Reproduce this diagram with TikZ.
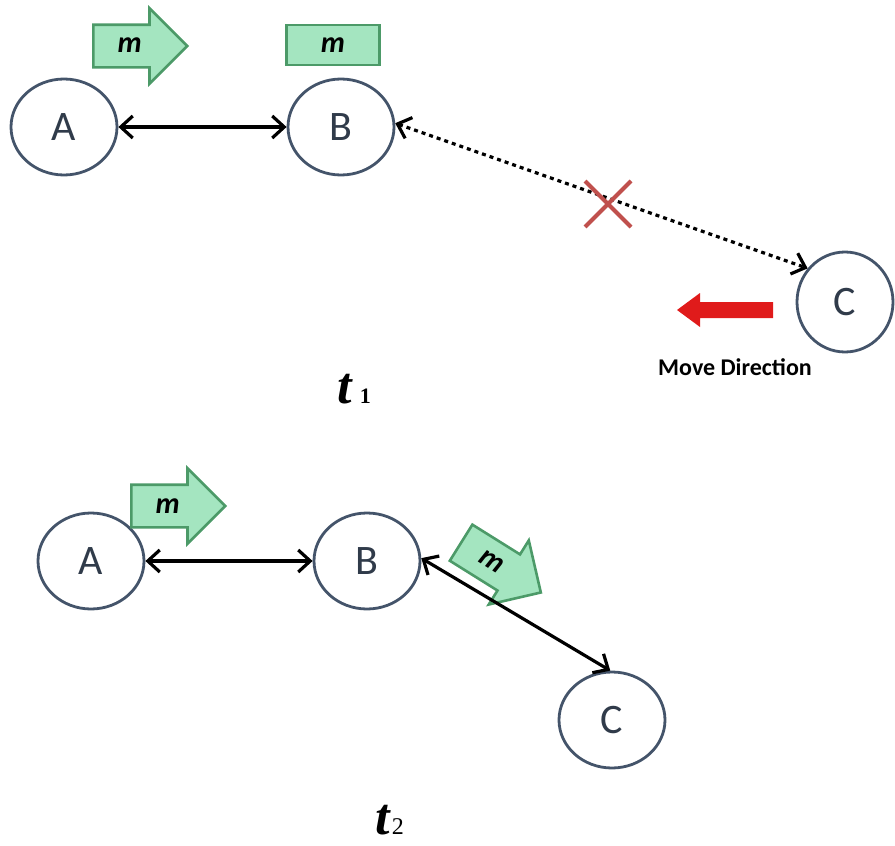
\documentclass[tikz,border=0pt]{standalone}
\usepackage{fontspec}
\setmainfont{Carlito}
\newfontfamily\timesfont{Liberation Serif}
\usetikzlibrary{positioning,arrows.meta,shapes.geometric,shapes.arrows,shapes.misc}
\definecolor{nodeline}{HTML}{44546A}
\definecolor{mfill}{HTML}{A4E5C0}
\definecolor{mline}{HTML}{4C9A68}
\definecolor{cutred}{HTML}{C0504D}
\definecolor{moved}{HTML}{E01B1B}

\begin{document}
\begin{tikzpicture}[x=0.5pt,y=-0.5pt,>={Straight Barb[length=6pt,width=11pt]},
  vertex/.style={ellipse,draw=nodeline,line width=1.4pt,fill=white,minimum width=53pt,minimum height=48pt,
    font=\fontsize{21}{21}\selectfont,text=nodeline!70!black},
  link/.style={<->,line width=1.6pt},
  mtext/.style={font=\fontsize{15}{15}\selectfont\bfseries\itshape},
  marrow/.style={mtext,single arrow,draw=mline,fill=mfill,line width=1.3pt,single arrow head extend=8.25pt,
    minimum height=47pt,text height=7pt,text depth=0pt,inner ysep=6.5pt,anchor=tail},
  mbox/.style={mtext,draw=mline,fill=mfill,line width=1.3pt,minimum width=46.5pt,minimum height=20pt,inner sep=0pt}]
\useasboundingbox (0,0) rectangle (895,846);

% time t1
\node[vertex] (A1) at (64,127) {A};
\node[vertex] (B1) at (341,127) {B};
\node[vertex,minimum width=48pt,minimum height=50pt] (C1) at (845,302) {C};
\node[marrow] (mA1) at (92,46) {m};
\node[mbox] (mB1) at (333,45) {m};
\draw[link] (A1) -- (B1);
\draw[link,dash pattern=on 2pt off 2pt] (B1.4) -- (C1.138);
\node[cross out,draw=cutred,line width=2pt,minimum size=21pt] (cut) at (608,204) {};
\fill[moved] (773,302) -- (700,302) -- (700,293) -- (677,310) -- (700,327) -- (700,318) -- (773,318) -- cycle;
\node[font=\fontsize{12}{12}\selectfont\bfseries] (dir) at (735,367) {Move Direction};
\node[anchor=base west,inner sep=0pt] (t1) at (337,403)
  {\timesfont{\fontsize{26}{26}\selectfont\bfseries\itshape t}\hspace{4pt}{\fontsize{11}{11}\selectfont\bfseries 1}};

% time t2
\node[vertex] (A2) at (91,561) {A};
\node[vertex] (B2) at (367,561) {B};
\node[vertex] (C2) at (612,720) {C};
\node[marrow] (mA2) at (130,506) {m};
\node[marrow,rotate=-32] (mB2) at (460,542) {m};
\draw[link] (A2) -- (B2);
\draw[link] (B2.3) -- (C2.92);
\node[anchor=base west,inner sep=0pt] (t2) at (375,834)
  {\timesfont{\fontsize{26}{26}\selectfont\bfseries\itshape t}\hspace{1pt}{\fontsize{12}{12}\selectfont 2}};
\end{tikzpicture}
\end{document}
